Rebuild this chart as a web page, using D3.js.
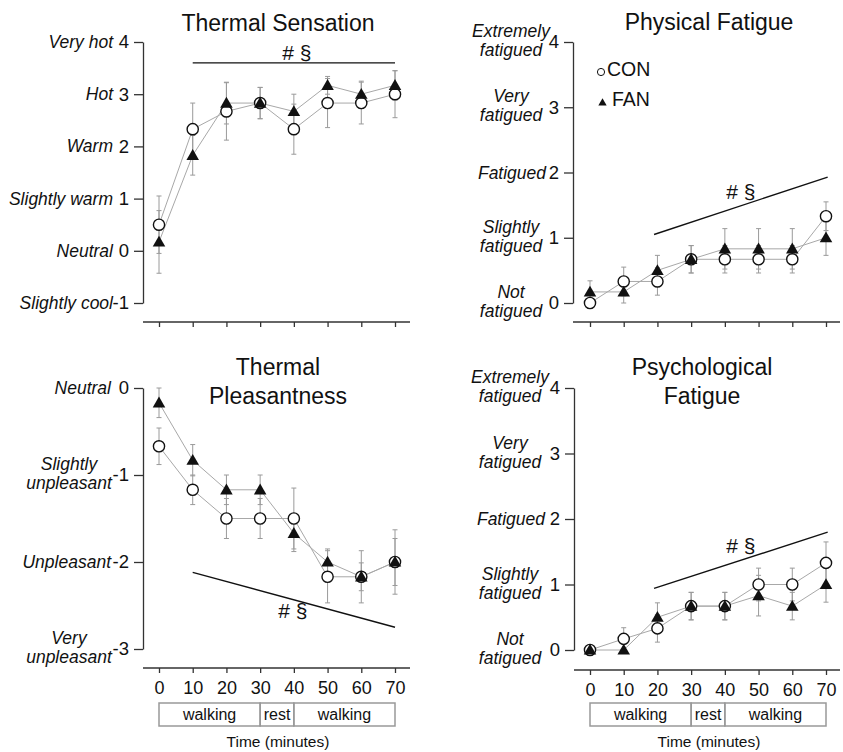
<!DOCTYPE html>
<html><head><meta charset="utf-8">
<script src="https://cdn.jsdelivr.net/npm/d3@7"></script>
<style>
body{margin:0;background:#fff}
svg{display:block}
text{font-family:"Liberation Sans",Arial,Helvetica,sans-serif;fill:#111}
</style>
</head><body>
<svg id="c" width="843" height="752"></svg>
<script>
// ---------- DATA ----------
const times = [0, 10, 20, 30, 40, 50, 60, 70];

// Thermal Sensation
const tsCON    = [0.5, 2.33, 2.67, 2.83, 2.33, 2.83, 2.83, 3.0];
const tsCONerr = [0.55, 0.5, 0.55, 0.3, 0.48, 0.47, 0.4, 0.45];
const tsFAN    = [0.17, 1.83, 2.83, 2.83, 2.67, 3.17, 3.0, 3.17];
const tsFANerr = [0.6, 0.38, 0.4, 0.3, 0.33, 0.17, 0.25, 0.28];
const tsTicks  = [-1, 0, 1, 2, 3, 4];
const tsLabels = [["Slightly cool"], ["Neutral"], ["Slightly warm"], ["Warm"], ["Hot"], ["Very hot"]];
const tsSig    = [[10, 3.6], [70, 3.6]];

// Physical Fatigue
const pfCON    = [0, 0.33, 0.33, 0.67, 0.67, 0.67, 0.67, 1.33];
const pfCONerr = [0, 0.22, 0.21, 0.21, 0.21, 0.21, 0.21, 0.22];
const pfFAN    = [0.17, 0.17, 0.5, 0.67, 0.83, 0.83, 0.83, 1.0];
const pfFANerr = [0.17, 0.17, 0.23, 0.21, 0.31, 0.31, 0.31, 0.27];
const pfSig    = [[19, 1.05], [70.5, 1.93]];

// Thermal Pleasantness
const tpCON    = [-0.67, -1.17, -1.5, -1.5, -1.5, -2.17, -2.17, -2.0];
const tpCONerr = [0.21, 0.17, 0.23, 0.23, 0.35, 0.3, 0.3, 0.37];
const tpFAN    = [-0.17, -0.83, -1.17, -1.17, -1.67, -2.0, -2.17, -2.0];
const tpFANerr = [0.17, 0.18, 0.17, 0.17, 0.21, 0.15, 0.16, 0.27];
const tpTicks  = [-3, -2, -1, 0];
const tpLabels = [["Very", "unpleasant"], ["Unpleasant"], ["Slightly", "unpleasant"], ["Neutral"]];
const tpSig    = [[10, -2.12], [70, -2.75]];

// Psychological Fatigue
const psCON    = [0, 0.17, 0.33, 0.67, 0.67, 1.0, 1.0, 1.33];
const psCONerr = [0, 0.17, 0.21, 0.21, 0.21, 0.25, 0.25, 0.32];
const psFAN    = [0, 0, 0.5, 0.67, 0.67, 0.83, 0.67, 1.0];
const psFANerr = [0, 0, 0.22, 0.21, 0.21, 0.31, 0.21, 0.27];
const psSig    = [[19, 0.94], [70.5, 1.8]];

const fatTicks  = [0, 1, 2, 3, 4];
const fatLabels = [["Not", "fatigued"], ["Slightly", "fatigued"], ["Fatigued"], ["Very", "fatigued"], ["Extremely", "fatigued"]];

const sigText = "# \u00a7";
const seriesNames = ["CON", "FAN"];
const phaseLabels = ["walking", "rest", "walking"];
const phaseBounds = [[0, 30], [30, 40], [40, 70]];
const xTitle = "Time (minutes)";

// ---------- PANELS ----------
const panels = [
  { title: ["Thermal Sensation"], con: tsCON, conErr: tsCONerr, fan: tsFAN, fanErr: tsFANerr,
    yDomain: [-1, 4], yTicks: tsTicks, yLabels: tsLabels, sig: tsSig,
    L: { ax: 143, xr: [159, 395], yr: [303, 42], xAxisY: 322, xEnd: 410, tx: 278, ty: [31],
         single: { anchor: "end", dx: -30 }, multiDx: -61, sigDx: 3, sigDy: -3, bottom: false, legend: false } },
  { title: ["Physical Fatigue"], con: pfCON, conErr: pfCONerr, fan: pfFAN, fanErr: pfFANerr,
    yDomain: [0, 4], yTicks: fatTicks, yLabels: fatLabels, sig: pfSig,
    L: { ax: 573, xr: [590, 826], yr: [303, 42], xAxisY: 322, xEnd: 840, tx: 709, ty: [30],
         single: { anchor: "middle", dx: -61 }, multiDx: -62, sigDx: 0, sigDy: -7, bottom: false, legend: true } },
  { title: ["Thermal", "Pleasantness"], con: tpCON, conErr: tpCONerr, fan: tpFAN, fanErr: tpFANerr,
    yDomain: [-3, 0], yTicks: tpTicks, yLabels: tpLabels, sig: tpSig,
    L: { ax: 143, xr: [159, 395], yr: [649, 388], xAxisY: 668, xEnd: 410, tx: 278, ty: [375, 404],
         single: { anchor: "end", dx: -32 }, multiDx: -74, sigDx: -1, sigDy: 18, bottom: true, legend: false } },
  { title: ["Psychological", "Fatigue"], con: psCON, conErr: psCONerr, fan: psFAN, fanErr: psFANerr,
    yDomain: [0, 4], yTicks: fatTicks, yLabels: fatLabels, sig: psSig,
    L: { ax: 574, xr: [590, 826], yr: [650, 388], xAxisY: 670, xEnd: 840, tx: 702, ty: [375, 404],
         single: { anchor: "middle", dx: -63 }, multiDx: -64, sigDx: 0, sigDy: -7, bottom: true, legend: false } }
];

const svg = d3.select("#c");
const AX = "#333", LINE = "#a8a8a8", ERR = "#9a9a9a";
const tri = d3.symbol().type(d3.symbolTriangle).size(68);

function drawPanel(p) {
  const L = p.L;
  const g = svg.append("g");
  const x = d3.scaleLinear().domain([0, 70]).range(L.xr);
  const y = d3.scaleLinear().domain(p.yDomain).range(L.yr);

  // title
  L.ty.forEach((ty, i) => {
    g.append("text").attr("x", L.tx).attr("y", ty).attr("text-anchor", "middle")
      .style("font-size", "23px").text(p.title[i]);
  });

  // y axis
  const ya = g.append("g").attr("transform", `translate(${L.ax},0)`)
    .call(d3.axisLeft(y).tickValues(p.yTicks).tickSize(9).tickPadding(5).tickSizeOuter(0)
      .tickFormat(d => String(d)));
  ya.select(".domain").attr("stroke", AX).attr("stroke-width", 1.3);
  ya.selectAll(".tick line").attr("stroke", AX).attr("stroke-width", 1.3);
  ya.selectAll(".tick text").style("font-size", "18.5px").style("font-family", '"Liberation Sans",Arial,sans-serif').attr("fill", "#111");

  // y category labels
  p.yTicks.forEach((t, i) => {
    const lines = p.yLabels[i];
    const ty = y(t);
    if (lines.length === 1) {
      g.append("text").attr("x", L.ax + L.single.dx).attr("y", ty + 6)
        .attr("text-anchor", L.single.anchor).style("font-size", "17.5px").style("font-style", "italic")
        .text(lines[0]);
    } else {
      [ty - 5, ty + 14].forEach((yy, k) => {
        g.append("text").attr("x", L.ax + L.multiDx).attr("y", yy)
          .attr("text-anchor", "middle").style("font-size", "17.5px").style("font-style", "italic")
          .text(lines[k]);
      });
    }
  });

  // x axis
  g.append("line").attr("x1", L.ax).attr("x2", L.xEnd).attr("y1", L.xAxisY).attr("y2", L.xAxisY)
    .attr("stroke", AX).attr("stroke-width", 1.3);
  const xa = g.append("g").attr("transform", `translate(0,${L.xAxisY})`)
    .call(d3.axisBottom(x).tickValues(times).tickSize(5).tickPadding(8).tickSizeOuter(0)
      .tickFormat(d => L.bottom ? String(d) : ""));
  xa.select(".domain").remove();
  xa.selectAll(".tick line").attr("stroke", AX).attr("stroke-width", 1.3);
  xa.selectAll(".tick text").style("font-size", "18px").style("font-family", '"Liberation Sans",Arial,sans-serif').attr("fill", "#111");

  if (L.bottom) {
    const by0 = 703, by1 = 726;
    phaseBounds.forEach((b, i) => {
      g.append("rect").attr("x", x(b[0])).attr("y", by0).attr("width", x(b[1]) - x(b[0])).attr("height", by1 - by0)
        .attr("fill", "none").attr("stroke", "#999").attr("stroke-width", 1.5);
      g.append("text").attr("x", (x(b[0]) + x(b[1])) / 2).attr("y", by1 - 6).attr("text-anchor", "middle")
        .style("font-size", "16px").text(phaseLabels[i]);
    });
    g.append("text").attr("x", (x(0) + x(70)) / 2 + 1).attr("y", 747).attr("text-anchor", "middle")
      .style("font-size", "15.5px").text(xTitle);
  }

  // significance line
  const s = p.sig;
  g.append("line").attr("x1", x(s[0][0])).attr("y1", y(s[0][1])).attr("x2", x(s[1][0])).attr("y2", y(s[1][1]))
    .attr("stroke", "#111").attr("stroke-width", 1.4);
  const mx = (x(s[0][0]) + x(s[1][0])) / 2, my = (y(s[0][1]) + y(s[1][1])) / 2;
  g.append("text").attr("x", mx + L.sigDx).attr("y", my + L.sigDy).attr("text-anchor", "middle")
    .style("font-size", "21px").text(sigText);

  // series lines
  const line = d3.line().x((d, i) => x(times[i])).y(d => y(d));
  [p.con, p.fan].forEach(vals => {
    g.append("path").attr("d", line(vals)).attr("fill", "none").attr("stroke", LINE).attr("stroke-width", 1);
  });

  // error bars
  [[p.con, p.conErr], [p.fan, p.fanErr]].forEach(([vals, errs]) => {
    vals.forEach((v, i) => {
      const e = errs[i];
      if (!e) return;
      const cx = x(times[i]);
      g.append("line").attr("x1", cx).attr("x2", cx).attr("y1", y(v - e)).attr("y2", y(v + e))
        .attr("stroke", ERR).attr("stroke-width", 1);
      [v - e, v + e].forEach(w => {
        g.append("line").attr("x1", cx - 2.5).attr("x2", cx + 2.5).attr("y1", y(w)).attr("y2", y(w))
          .attr("stroke", ERR).attr("stroke-width", 1);
      });
    });
  });

  // markers
  p.con.forEach((v, i) => {
    g.append("circle").attr("cx", x(times[i])).attr("cy", y(v)).attr("r", 5.6)
      .attr("fill", "#fff").attr("stroke", "#111").attr("stroke-width", 1.4);
  });
  p.fan.forEach((v, i) => {
    g.append("path").attr("d", tri).attr("transform", `translate(${x(times[i])},${y(v) + 1})`)
      .attr("fill", "#111");
  });

  // legend
  if (L.legend) {
    g.append("circle").attr("cx", 601).attr("cy", 72).attr("r", 3.6)
      .attr("fill", "#fff").attr("stroke", "#111").attr("stroke-width", 1);
    g.append("text").attr("x", 607).attr("y", 75.5).style("font-size", "19.5px").text(seriesNames[0]);
    g.append("path").attr("d", d3.symbol().type(d3.symbolTriangle).size(30)).attr("transform", "translate(602.5,103)")
      .attr("fill", "#111");
    g.append("text").attr("x", 612).attr("y", 106).style("font-size", "19.5px").text(seriesNames[1]);
  }
}

panels.forEach(drawPanel);
</script>
</body></html>
